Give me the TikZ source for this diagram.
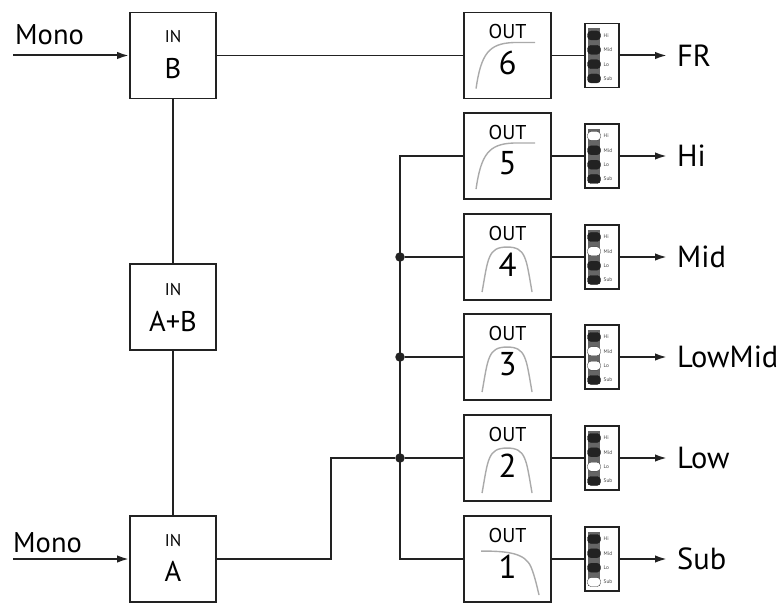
\documentclass[tikz,border=0pt]{standalone}
\usepackage{fontspec}
\setmainfont{PT Sans}
\usetikzlibrary{arrows.meta,calc}
\definecolor{darkpill}{HTML}{222222}
\definecolor{stripgray}{HTML}{666666}
\definecolor{linecol}{HTML}{222222}
\definecolor{curvecol}{HTML}{AAAAAA}
\begin{document}
\begin{tikzpicture}[x=1pt,y=-1pt,
  box/.style={draw=linecol, line width=1.9pt, minimum width=86pt, minimum height=86pt, inner sep=0pt},
  wire/.style={draw=linecol, line width=1.7pt},
  arr/.style={draw=linecol, line width=2pt, -{Latex[length=12pt,width=7.5pt]}},
  curve/.style={draw=curvecol, line width=1.4pt},
  ind/.style={draw=linecol, line width=1.6pt, fill=white, minimum width=34pt, minimum height=64pt, inner sep=0pt},
  small/.style={font=\fontsize{17}{17}\selectfont, inner sep=0pt},
  big/.style={font=\fontsize{28.5}{28.5}\selectfont, inner sep=0pt},
  outt/.style={font=\fontsize{20}{20}\selectfont, inner sep=0pt},
  outn/.style={font=\fontsize{33}{33}\selectfont, inner sep=0pt},
  lab/.style={font=\fontsize{30.5}{30.5}\selectfont, inner sep=0pt, anchor=west},
  tiny/.style={font=\fontsize{5.3}{5.3}\selectfont, text=black!75, inner sep=0pt, anchor=west},
  dot/.style={circle, fill=linecol, inner sep=0pt, minimum size=9.5pt}
]
\useasboundingbox (0,0) rectangle (781,612);

% input boxes
\node[box] (inB) at (173,55.5) {};
\node[small] (inBt) at ($(inB.north)+(0,25)$) {IN};
\node[big] (inBn) at ($(inB.north)+(0,57)$) {B};
\node[box] (inAB) at (173,307) {};
\node[small] (inABt) at ($(inAB.north)+(0,26)$) {IN};
\node[big] (inABn) at ($(inAB.north)+(0,58)$) {A+B};
\node[box] (inA) at (173,559) {};
\node[small] (inAt) at ($(inA.north)+(0,25)$) {IN};
\node[big] (inAn) at ($(inA.north)+(0,56)$) {A};

% mono inputs
\coordinate (monoBs) at (13,55.5);
\coordinate (monoAs) at (13,559);
\node[big, anchor=west] (monoBt) at (15,35) {Mono};
\node[big, anchor=west] (monoAt) at (13,543) {Mono};
\draw[arr] (monoBs) -- (inB.west);
\draw[arr] (monoAs) -- (inA.west);

% vertical links between inputs
\draw[wire] (inB.south) -- (inAB.north);
\draw[wire] (inAB.south) -- (inA.north);

% output rows
\foreach \n/\yc/\pa/\pb/\pc/\pd/\name in {
  6/55.5/darkpill/darkpill/darkpill/darkpill/FR,
  5/156/white/darkpill/darkpill/darkpill/Hi,
  4/257/darkpill/white/darkpill/darkpill/Mid,
  3/357/darkpill/white/white/darkpill/LowMid,
  2/458/darkpill/darkpill/white/darkpill/Low,
  1/559/darkpill/darkpill/darkpill/white/Sub} {
  \node[box, minimum width=87pt] (out\n) at (507.5,\yc) {};
  \node[ind] (ind\n) at (602,\yc) {};
  \fill[stripgray] ($(ind\n.center)+(-14,-27)$) rectangle ($(ind\n.center)+(-2,27)$);
  \foreach \c/\dy/\t in {\pa/-20/Hi, \pb/-5.7/Mid, \pc/8.7/Lo, \pd/23/Sub} {
    \filldraw[fill=\c, draw=darkpill, line width=0.3pt, rounded corners=3.5pt]
      ($(ind\n.center)+(-14.5,\dy-4.5)$) rectangle ($(ind\n.center)+(-1.5,\dy+4.5)$);
    \node[tiny] (ind\n\t) at ($(ind\n.center)+(1.5,\dy)$) {\t};
  }
  \draw[wire] (out\n.east) -- (ind\n.west);
  \coordinate (end\n) at (667,\yc);
  \draw[arr] (ind\n.east) -- (end\n);
  \node[lab] (lab\n) at (677,\yc) {\name};
}

% filter curves
\foreach \n in {6,5} {
  \begin{scope}[shift={(out\n.north west)}]
    \draw[curve] (13,77) .. controls (18,42) and (26,32) .. (50,31) -- (72,31);
  \end{scope}
}
\foreach \n in {4,3,2} {
  \begin{scope}[shift={(out\n.north west)}]
    \draw[curve] (19,79) .. controls (25,45) and (25,34) .. (44,34)
      .. controls (63,34) and (63,45) .. (69,79);
  \end{scope}
}
\begin{scope}[shift={(out1.north west)}]
  \draw[curve] (18,36) .. controls (45,36) and (62,38) .. (68,52) .. controls (72,62) and (74,72) .. (76,80);
\end{scope}
\foreach \n in {6,5,4,3,2,1} {
  \node[outt] (outt\n) at ($(out\n.north)+(0,20)$) {OUT};
  \node[outn] (outn\n) at ($(out\n.north)+(0,51.5)$) {\n};
}

% connections
\draw[wire] (inB.east) -- (out6.west);
\coordinate (bus5) at (400,156);
\coordinate (bus1) at (400,559);
\node[dot] (j4) at (400,257) {};
\node[dot] (j3) at (400,357) {};
\node[dot] (j2) at (400,458) {};
\coordinate (kneeA) at (331,559);
\coordinate (kneeB) at (331,458);
\draw[wire] (out5.west) -- (bus5) -- (bus1) -- (out1.west);
\draw[wire] (j4) -- (out4.west);
\draw[wire] (j3) -- (out3.west);
\draw[wire] (j2) -- (out2.west);
\draw[wire] (inA.east) -- (kneeA) -- (kneeB) -- (j2);
\end{tikzpicture}
\end{document}
